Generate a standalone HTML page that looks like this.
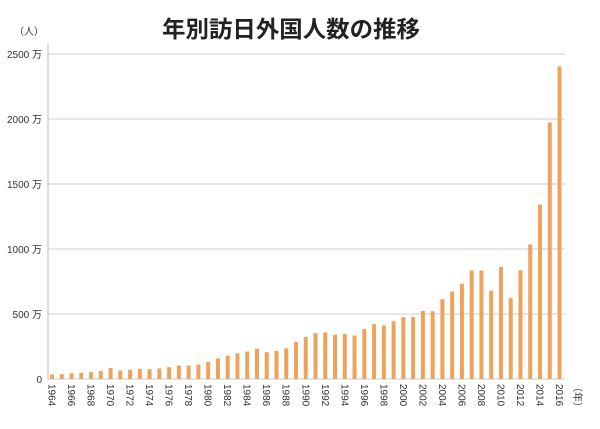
<!DOCTYPE html>
<html><head><meta charset="utf-8">
<style>
html,body{margin:0;padding:0;background:#fff;}
svg{display:block;font-family:"Liberation Sans","Noto Sans CJK JP",sans-serif;}
</style></head>
<body>
<svg id="c" width="600" height="429" viewBox="0 0 600 429" xmlns="http://www.w3.org/2000/svg">
<text x="162" y="37" font-size="23" font-weight="bold" fill="#222" textLength="258" lengthAdjust="spacingAndGlyphs" font-family="'Noto Sans CJK JP',sans-serif">年別訪日外国人数の推移</text>
<text x="14" y="35" font-size="10" fill="#333" font-family="'Noto Sans CJK JP',sans-serif">（人）</text>
<g id="grid"></g>
<line x1="48" y1="43" x2="48" y2="380" stroke="#bbb" stroke-width="1"/>
<g id="bars"></g>
<text x="0" y="0" font-size="10" fill="#333" transform="translate(574,382) rotate(90)" font-family="'Noto Sans CJK JP',sans-serif">（年）</text>
</svg>
<script>
var svg=document.getElementById('c'),NS='http://www.w3.org/2000/svg';
function el(t,a,txt){var e=document.createElementNS(NS,t);for(var k in a)e.setAttribute(k,a[k]);if(txt!=null)e.textContent=txt;return e;}
var g=document.getElementById('grid');
var y0=379,s=65/500;
for(var v=500;v<=2500;v+=500){var y=y0-v*s;
g.appendChild(el('line',{x1:48,y1:y,x2:565,y2:y,stroke:'#ccc','stroke-width':1}));
g.appendChild(el('text',{x:42,y:y+4,'font-size':10,fill:'#333','text-anchor':'end'},v+' 万'));}
g.appendChild(el('line',{x1:48,y1:y0,x2:565,y2:y0,stroke:'#ccc','stroke-width':1}));
g.appendChild(el('text',{x:42,y:y0+4,'font-size':10,fill:'#333','text-anchor':'end'},'0'));
var d=[35,37,43,48,52,61,85,66,72,78,76,81,91,103,103,111,132,158,179,197,211,233,206,216,236,284,324,353,358,341,347,335,384,422,411,444,476,477,524,521,614,673,733,835,835,679,861,622,836,1036,1341,1974,2404];
var b=document.getElementById('bars');
for(var i=0;i<d.length;i++){var cx=52+i*9.76,h=d[i]*s;
b.appendChild(el('rect',{x:cx-2,y:y0-h,width:4,height:h,fill:'#eea35c'}));
if(i%2==0){var yr=1964+i;
b.appendChild(el('text',{x:0,y:0,'font-size':10,fill:'#333',transform:'translate('+(cx-3.5)+',384) rotate(90)'},String(yr)));}}
</script>
</body></html>
